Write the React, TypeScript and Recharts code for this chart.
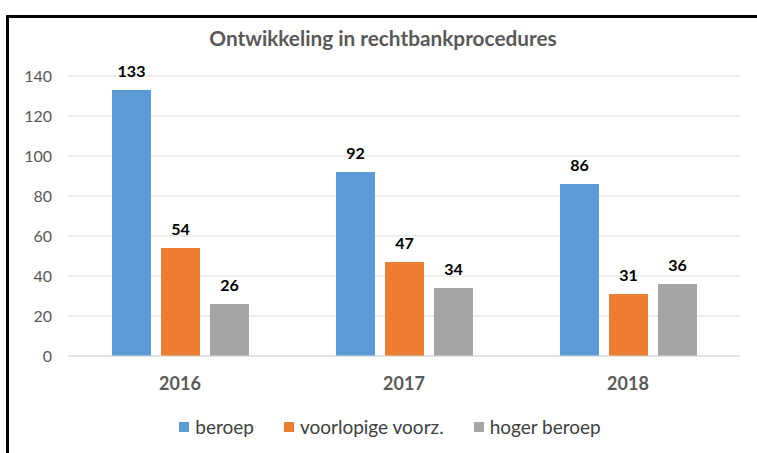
import { Bar, BarChart, CartesianGrid, LabelList, Legend, XAxis, YAxis } from "recharts"

const years = ["2016", "2017", "2018"]
const beroep = [133, 92, 86]
const voorlopigeVoorz = [54, 47, 31]
const hogerBeroep = [26, 34, 36]
const yTicks = [0, 20, 40, 60, 80, 100, 120, 140]
const seriesNames = ["beroep", "voorlopige voorz.", "hoger beroep"]

const chartTitle = "Ontwikkeling in rechtbankprocedures"
const font = "Lato, 'Open Sans', sans-serif"

const data = years.map((year, i) => ({
	year,
	beroep: beroep[i],
	voorlopig: voorlopigeVoorz[i],
	hoger: hogerBeroep[i],
}))

const renderLegend = (props: any) => {
	const { payload } = props
	return (
		<div style={{ display: "flex", justifyContent: "center", fontFamily: font, fontSize: 19, color: "#404040" }}>
			{payload.map((entry: any) => (
				<div key={entry.value} style={{ display: "flex", alignItems: "center", margin: "0 15px" }}>
					<span style={{ width: 10, height: 10, background: entry.color, marginRight: 6 }} />
					<span>{entry.value}</span>
				</div>
			))}
		</div>
	)
}

export default function App() {
	return (
		<div
			style={{
				position: "absolute",
				left: 6,
				top: 15,
				width: 751,
				height: 438,
				borderLeft: "3px solid #000",
				borderTop: "3px solid #000",
				background: "#fff",
			}}
		>
			<div
				style={{
					position: "absolute",
					left: 0,
					width: 748,
					top: 7,
					textAlign: "center",
					fontFamily: font,
					fontWeight: "bold",
					fontSize: 20.8,
					color: "#595959",
				}}
			>
				{chartTitle}
			</div>
			<BarChart
				width={748}
				height={435}
				data={data}
				margin={{ top: 58, right: 17, left: 0, bottom: 0 }}
				barGap={10}
				barSize={39}
			>
				<CartesianGrid vertical={false} stroke="#d9d9d9" />
				<XAxis
					dataKey="year"
					height={97}
					axisLine={{ stroke: "#d9d9d9" }}
					tickLine={false}
					tickSize={0}
					tickMargin={21}
					tick={{ fill: "#595959", fontSize: 18, fontWeight: "bold", fontFamily: font }}
				/>
				<YAxis
					width={59}
					domain={[0, 140]}
					ticks={yTicks}
					axisLine={false}
					tickLine={false}
					tickSize={0}
					tickMargin={16}
					tick={{ fill: "#595959", fontSize: 16, fontFamily: font }}
				/>
				<Legend
					layout="horizontal"
					verticalAlign="middle"
					align="center"
					content={renderLegend}
					itemSorter={(item: any) => seriesNames.indexOf(item.value)}
					wrapperStyle={{ top: 397, left: 7, width: 748 }}
				/>
				<Bar dataKey="beroep" name={seriesNames[0]} fill="#5b9bd5" isAnimationActive={false}>
					<LabelList dataKey="beroep" position="top" offset={13} fill="#000" fontSize={16} fontWeight="bold" fontFamily={font} />
				</Bar>
				<Bar dataKey="voorlopig" name={seriesNames[1]} fill="#ed7d31" isAnimationActive={false}>
					<LabelList dataKey="voorlopig" position="top" offset={13} fill="#000" fontSize={16} fontWeight="bold" fontFamily={font} />
				</Bar>
				<Bar dataKey="hoger" name={seriesNames[2]} fill="#a5a5a5" isAnimationActive={false}>
					<LabelList dataKey="hoger" position="top" offset={13} fill="#000" fontSize={16} fontWeight="bold" fontFamily={font} />
				</Bar>
			</BarChart>
		</div>
	)
}
